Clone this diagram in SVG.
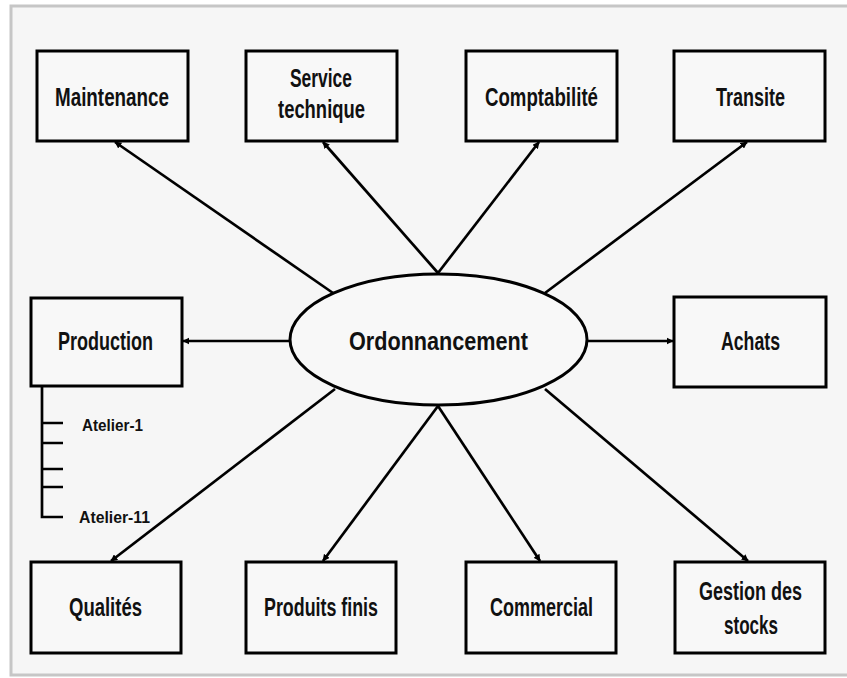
<svg xmlns="http://www.w3.org/2000/svg" width="847" height="678" viewBox="0 0 847 678">
<defs>
<style>
.box{fill:#f8f8f8;stroke:#000;stroke-width:3}
.lbl{font-family:"Liberation Sans",Arial,sans-serif;font-weight:bold;font-size:25px;fill:#111;text-anchor:start}
.sm{font-family:"Liberation Sans",Arial,sans-serif;font-weight:bold;font-size:17px;fill:#111}
.ln{stroke:#000;stroke-width:2.7;fill:none;marker-end:url(#ah)}
.tr{stroke:#000;stroke-width:2.7;fill:none}
</style>
<marker id="ah" viewBox="0 0 10 10" refX="9" refY="5" markerWidth="2.6" markerHeight="2.6" orient="auto" markerUnits="strokeWidth">
<path d="M0,0 L10,5 L0,10 z" fill="#000"/>
</marker>
</defs>
<rect x="0" y="0" width="847" height="678" fill="#ffffff"/>
<rect x="11" y="6" width="850" height="669" fill="#f6f6f6" stroke="#c6c6c6" stroke-width="3"/>

<g id="connectors">
<line class="ln" x1="333" y1="293" x2="115" y2="142"/>
<line class="ln" x1="438" y1="273" x2="323" y2="142"/>
<line class="ln" x1="438" y1="273" x2="539" y2="142"/>
<line class="ln" x1="545" y1="293" x2="747" y2="142"/>
<line class="ln" x1="290" y1="341" x2="183" y2="341"/>
<line class="ln" x1="587" y1="341" x2="673" y2="341"/>
<line class="ln" x1="335" y1="389" x2="111" y2="561"/>
<line class="ln" x1="438" y1="406" x2="323" y2="561"/>
<line class="ln" x1="438" y1="406" x2="540" y2="561"/>
<line class="ln" x1="545" y1="389" x2="748" y2="561"/>
</g>

<g id="ordonnancement">
<ellipse cx="438.5" cy="339.5" rx="148.5" ry="65.5" fill="#f8f8f8" stroke="#000" stroke-width="3"/>
<text class="lbl" x="349" y="350" font-size="30" textLength="179" lengthAdjust="spacingAndGlyphs">Ordonnancement</text>
</g>

<g id="maintenance">
<rect class="box" x="37" y="51" width="151" height="90"/>
<text class="lbl" x="55" y="106" textLength="114" lengthAdjust="spacingAndGlyphs">Maintenance</text>
</g>
<g id="service-technique">
<rect class="box" x="246" y="51" width="151" height="90"/>
<text class="lbl" x="290" y="87" textLength="62" lengthAdjust="spacingAndGlyphs">Service</text>
<text class="lbl" x="278" y="118" textLength="87" lengthAdjust="spacingAndGlyphs">technique</text>
</g>
<g id="comptabilite">
<rect class="box" x="466" y="51" width="151" height="90"/>
<text class="lbl" x="485" y="106" textLength="113" lengthAdjust="spacingAndGlyphs">Comptabilité</text>
</g>
<g id="transite">
<rect class="box" x="674" y="51" width="151" height="90"/>
<text class="lbl" x="716" y="106" textLength="69" lengthAdjust="spacingAndGlyphs">Transite</text>
</g>

<g id="production">
<rect class="box" x="31" y="298" width="151" height="88"/>
<text class="lbl" x="58" y="350" textLength="95" lengthAdjust="spacingAndGlyphs">Production</text>
<path class="tr" d="M42,386 V517 H63 M42,423 H63 M42,443 H63 M42,469 H63 M42,487 H63"/>
<text class="sm" x="82" y="431" textLength="61" lengthAdjust="spacingAndGlyphs">Atelier-1</text>
<text class="sm" x="79" y="523" textLength="71" lengthAdjust="spacingAndGlyphs">Atelier-11</text>
</g>
<g id="achats">
<rect class="box" x="674" y="297" width="152" height="90"/>
<text class="lbl" x="721" y="350" textLength="59" lengthAdjust="spacingAndGlyphs">Achats</text>
</g>

<g id="qualites">
<rect class="box" x="31" y="562" width="150" height="91"/>
<text class="lbl" x="69" y="616" textLength="73" lengthAdjust="spacingAndGlyphs">Qualités</text>
</g>
<g id="produits-finis">
<rect class="box" x="246" y="562" width="150" height="91"/>
<text class="lbl" x="264" y="616" textLength="114" lengthAdjust="spacingAndGlyphs">Produits finis</text>
</g>
<g id="commercial">
<rect class="box" x="466" y="562" width="150" height="91"/>
<text class="lbl" x="490" y="616" textLength="103" lengthAdjust="spacingAndGlyphs">Commercial</text>
</g>
<g id="gestion-stocks">
<rect class="box" x="675" y="562" width="150" height="91"/>
<text class="lbl" x="699" y="600" textLength="103" lengthAdjust="spacingAndGlyphs">Gestion des</text>
<text class="lbl" x="724" y="634" textLength="54" lengthAdjust="spacingAndGlyphs">stocks</text>
</g>
</svg>
